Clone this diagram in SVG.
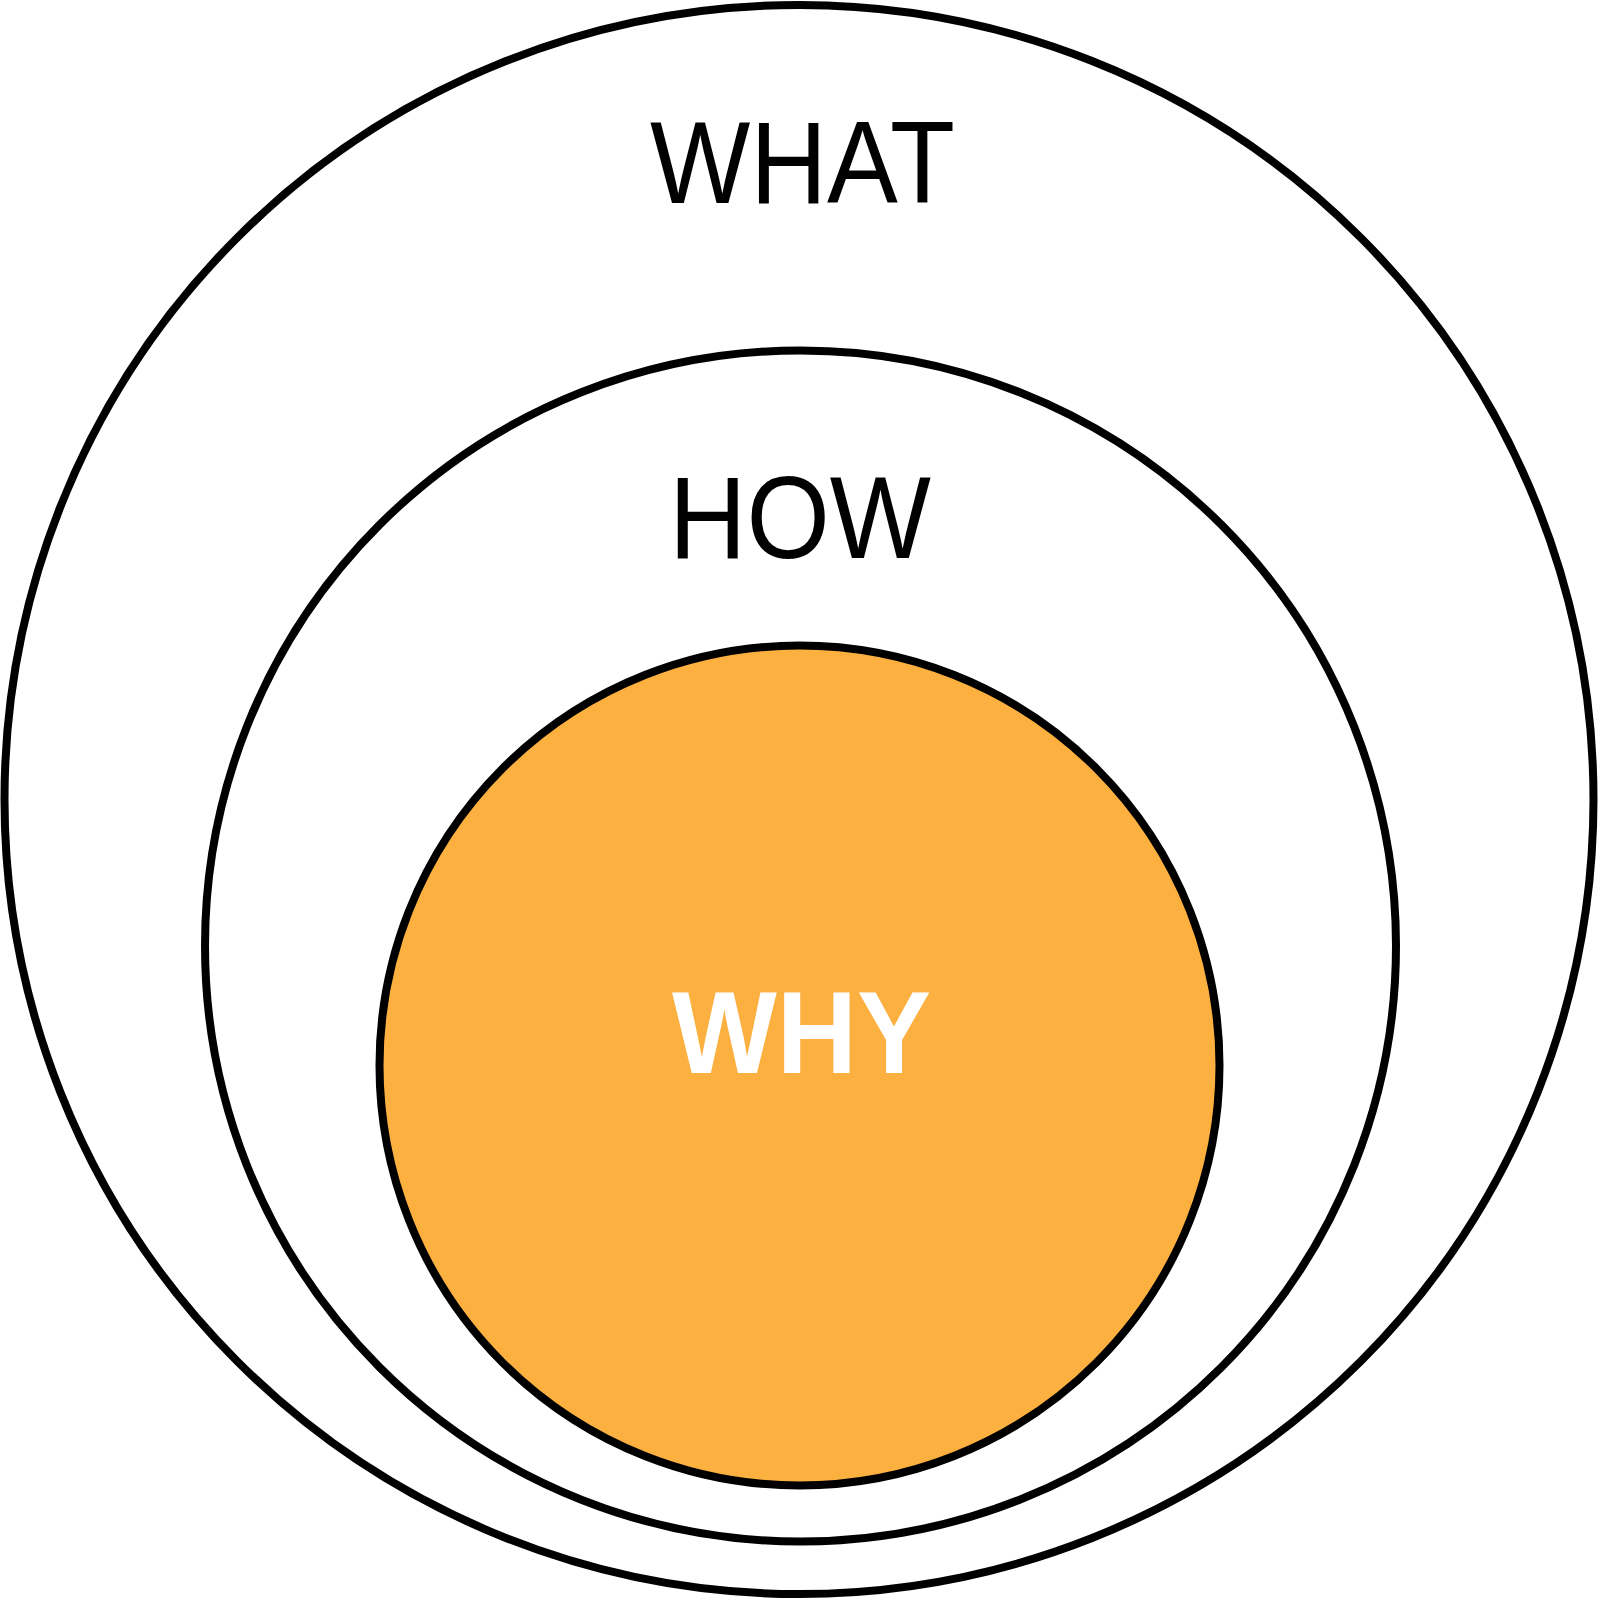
<svg xmlns="http://www.w3.org/2000/svg" width="1600" height="1600" viewBox="0 0 1600 1600">
  <style>
    .ring { fill: #ffffff; stroke: #000000; stroke-width: 8; }
    .core { fill: #FBB040; stroke: #000000; stroke-width: 8; }
    .lbl { font-family: "Liberation Sans", Arial, sans-serif; font-size: 116px; fill: #000000; }
    .lblw { font-family: "Liberation Sans", Arial, sans-serif; font-size: 116px; font-weight: bold; fill: #ffffff; }
  </style>
  <rect width="1600" height="1600" fill="#ffffff"/>
  <g id="what">
    <circle class="ring" cx="799" cy="799.5" r="794.5"/>
    <text class="lbl" x="650" y="203" textLength="305" lengthAdjust="spacingAndGlyphs">WHAT</text>
  </g>
  <g id="how">
    <circle class="ring" cx="800.5" cy="946" r="595.5"/>
    <text class="lbl" x="669" y="558" textLength="262" lengthAdjust="spacingAndGlyphs">HOW</text>
  </g>
  <g id="why">
    <circle class="core" cx="799.5" cy="1065.5" r="420"/>
    <text class="lblw" x="672" y="1072.5" textLength="259" lengthAdjust="spacingAndGlyphs">WHY</text>
  </g>
  <g id="connectors"/>
</svg>
